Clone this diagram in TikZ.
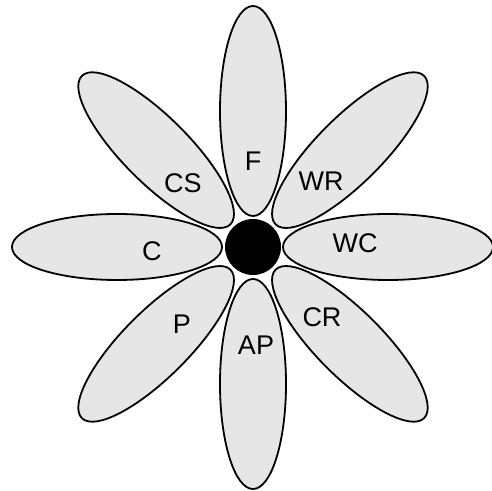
\documentclass[tikz,border=0pt]{standalone}
\usepackage{fontspec}
\setmainfont{Liberation Sans}
\usepackage{tikz}
\usetikzlibrary{shapes.geometric}
\definecolor{petalgray}{HTML}{E6E6E6}

\begin{document}
\begin{tikzpicture}[
  x=1bp,y=1bp,
  petal/.style={ellipse,draw=black,line width=1.8bp,fill=petalgray,minimum width=210bp,minimum height=66bp,inner sep=0pt},
  core/.style={circle,fill=black,minimum size=56bp,inner sep=0pt},
  lbl/.style={font=\fontsize{27bp}{30bp}\selectfont,inner sep=0pt}
]
\useasboundingbox (-253,-244) rectangle (238,247);
\node[petal,rotate=90] (pF) at (90:136) {};
\node[petal,rotate=45] (pWR) at (45:137) {};
\node[petal] (pWC) at (0:135) {};
\node[petal,rotate=-45] (pCR) at (-45:137) {};
\node[petal,rotate=-90] (pAP) at (-90:137) {};
\node[petal,rotate=45] (pP) at (-135:137) {};
\node[petal] (pC) at (180:136) {};
\node[petal,rotate=-45] (pCS) at (135:137) {};
\node[core] (ctr) at (0,0) {};
\node[lbl] (lF) at (0,86) {F};
\node[lbl] (lWR) at (68,66) {WR};
\node[lbl] (lWC) at (102,4) {WC};
\node[lbl] (lCR) at (69,-70) {CR};
\node[lbl] (lAP) at (3,-98) {AP};
\node[lbl] (lP) at (-71,-77) {P};
\node[lbl] (lC) at (-101,-4) {C};
\node[lbl] (lCS) at (-70,64) {CS};
\end{tikzpicture}
\end{document}
